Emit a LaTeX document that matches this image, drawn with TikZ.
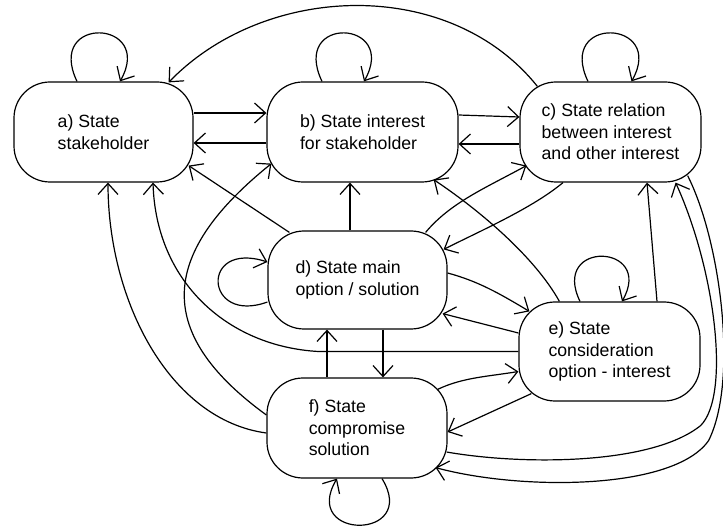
\documentclass[tikz,border=0pt]{standalone}
\usepackage{fontspec}
\setmainfont{Liberation Sans}
\usetikzlibrary{arrows.meta,calc}
\begin{document}
\begin{tikzpicture}[x=1pt,y=-1pt,
  state/.style={draw, line width=1.2pt, rounded corners=36pt, minimum height=100pt,
    minimum width=180pt, align=left, inner sep=2pt,
    font=\fontsize{17.7}{21.5}\selectfont},
  conn/.style={line width=1.2pt, line join=round,
    -{Straight Barb[length=11pt,width=20pt]}},
  plain/.style={line width=1.2pt}]
\useasboundingbox (0,0) rectangle (723,529);

% nodes
\node[state, minimum width=179pt] (a) at (103.5,132) {a) State\\stakeholder};
\node[state, minimum width=191pt] (b) at (362.5,132) {b) State interest\\for stakeholder};
\node[state, minimum width=181pt] (c) at (610.5,132) {c) State relation\\between interest\\and other interest};
\node[state, minimum width=179pt, minimum height=98pt] (d) at (357.5,280) {d) State main\\option / solution};
\node[state, minimum width=181pt, minimum height=99pt] (e) at (609.5,351.5) {e) State\\consideration\\option - interest};
\node[state, minimum width=180pt] (f) at (357,428) {f) State\\compromise\\solution};

% self loops
\draw[conn] ($(a.north)+(-26.5,0)$) .. controls +(-32,-67) and +(35,-62) .. ($(a.north)+(16.5,0)$);
\draw[conn] ($(b.north)+(-40.5,0)$) .. controls +(-32,-67) and +(35,-62) .. ($(b.north)+(1.5,0)$);
\draw[conn] ($(c.north)+(-22.5,0)$) .. controls +(-32,-67) and +(35,-62) .. ($(c.north)+(21,0)$);
\draw[conn] ($(e.north)+(-29.5,0)$) .. controls +(-30,-62) and +(33,-58) .. ($(e.north)+(12.5,0)$);
\draw[conn] ($(d.west)+(0,22)$) .. controls +(-63,23) and +(-68,-22) .. ($(d.west)+(0,-18)$);
\draw[conn] ($(f.south)+(25,0)$) .. controls +(38,62) and +(-37,62) .. ($(f.south)+(-20,0)$);

% a <-> b, b <-> c
\draw[conn] ($(a.east)+(0,-19)$) -- ($(b.west)+(0,-19)$);
\draw[conn] ($(b.west)+(0,11)$) -- ($(a.east)+(0,11)$);
\draw[conn] ($(b.east)+(0,-17)$) -- ($(c.west)+(0,-15)$);
\draw[conn] ($(c.west)+(0,12)$) -- ($(b.east)+(0,12)$);

% c -> a (top arc)
\draw[conn] ($(c.north west)+(18,5)$) .. controls +(-88,-110) and +(97,-100) .. ($(a.north east)+(-25,1)$);

% d -> a, f -> b, f -> a, e -> a
\draw[conn] ($(d.north west)+(22,2)$) -- ($(a.south east)+(-5,-17)$);
\draw[conn] ($(f.west)+(0,-13)$) .. controls +(-117,-85) and +(-108,87) .. ($(b.south west)+(5,-19)$);
\draw[conn] ($(f.west)+(0,5)$) .. controls +(-97,-13) and +(0,118) .. ($(a.south)+(4.5,0)$);
\draw[conn] (e.west) -- ++(-200,0) .. controls +(-90,-5) and +(3,100) .. ($(a.south)+(49.5,0)$);

% d <-> b, c
\draw[conn] ($(d.north)+(-7.5,0)$) -- ($(b.south)+(-12.5,0)$);
\draw[conn] ($(d.north east)+(-22,2)$) .. controls +(25,-30) and +(-40,22) .. ($(c.south west)+(7,-17)$);
\draw[conn] ($(c.south)+(-47.5,0)$) .. controls +(-30,25) and +(40,-20) .. ($(d.north east)+(-4,19)$);

% e -> b
\draw[conn] ($(e.north west)+(41,0)$) .. controls +(-25,-45) and +(45,30) .. ($(b.south east)+(-25,-3)$);

% d <-> e
\draw[conn] ($(d.east)+(0,-7)$) .. controls +(30,8) and +(-30,-18) .. ($(e.north west)+(11,10)$);
\draw[conn] ($(e.west)+(0,-18.5)$) -- ($(d.south east)+(-5,-16)$);

% d <-> f
\draw[conn] ($(f.north)+(-30,0)$) -- ($(d.south)+(-30.5,0)$);
\draw[conn] ($(d.south)+(25.5,0)$) -- ($(f.north)+(26,0)$);

% e <-> f
\draw[conn] ($(f.north east)+(-10,12)$) .. controls +(25,-12) and +(-30,5) .. ($(e.west)+(0,20)$);
\draw[conn] ($(e.south west)+(13,-8)$) -- ($(f.east)+(0,4)$);

% e -> c
\draw[conn] ($(e.north)+(47.5,0)$) -- ($(c.south)+(36.5,0)$);

% f -> c (inner) and c -> f (outer)
\draw[conn] ($(f.east)+(-1,24)$) .. controls +(74,13) and +(-50,40) .. ($(e.south east)+(0,24)$)
  .. controls +(30,-30) and +(40,88) .. ($(c.south east)+(-26,0)$);
\draw[conn] ($(c.south east)+(-14,-7)$) .. controls +(33,65) and +(30,-60) .. ($(e.south east)+(8,39)$)
  .. controls +(-35,50) and +(85,23) .. ($(f.south east)+(-12,-11)$);
\end{tikzpicture}
\end{document}
